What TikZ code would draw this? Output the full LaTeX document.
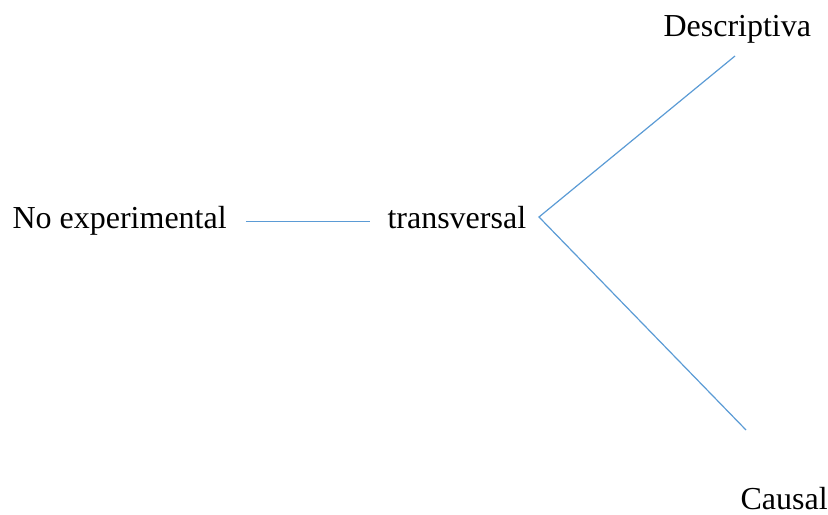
\documentclass[tikz,border=0pt]{standalone}
\usepackage{fontspec}
\setmainfont{Liberation Serif}
\usepackage{tikz}
\usepackage{xcolor}
\definecolor{lineblue}{HTML}{5B9BD5}
\tikzset{link/.style={draw=lineblue, line width=0.45pt},
  lab/.style={inner sep=0pt, anchor=base west, font=\fontsize{12}{14}\selectfont}}

\begin{document}
\begin{tikzpicture}[x=0.375pt, y=-0.375pt]
	\useasboundingbox (0,0) rectangle (828,515);

	\node[lab] (noexp) at (12, 229) {No experimental};
	\node[lab] (trans) at (387, 229) {transversal};
	\node[lab] (desc) at (663, 37) {Descriptiva};
	\node[lab] (causal) at (740, 510) {Causal};

	\coordinate (split) at (539, 217);
	\coordinate (topend) at (735, 56);
	\coordinate (botend) at (746, 430);

	\draw[link] ([xshift=7pt]noexp.east) -- ([xshift=-6.4pt]trans.west |- noexp.east);
	\draw[link] (topend) -- (split) -- (botend);
\end{tikzpicture}
\end{document}
